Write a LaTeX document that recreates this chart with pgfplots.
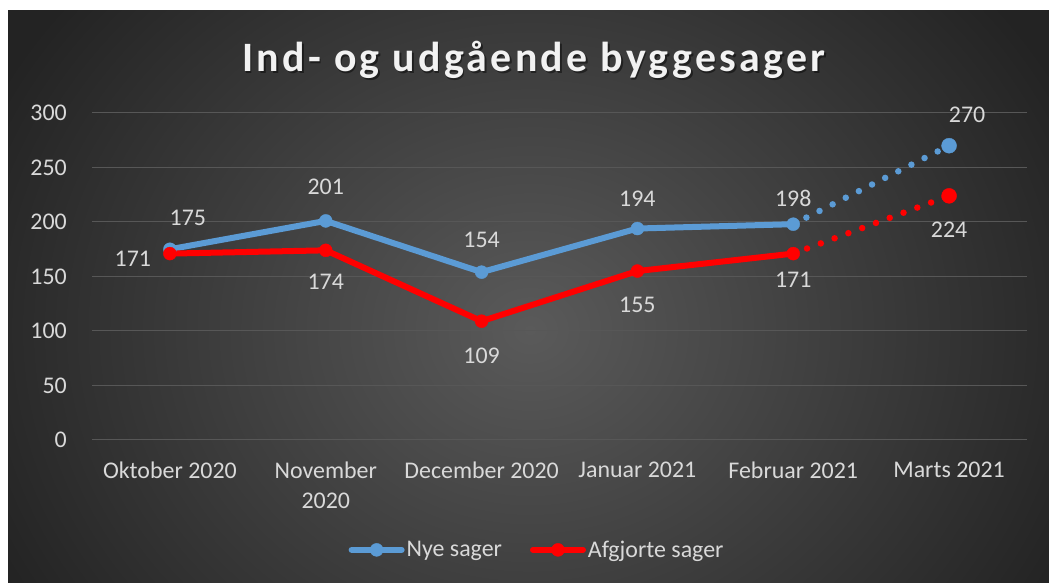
\documentclass[border=0pt]{standalone}
\usepackage{fontspec}
\setmainfont{Carlito}
\newfontfamily\titlefont[LetterSpace=8]{Carlito}
\usepackage{pgfplots}
\usepackage{pgfplotstable}
\pgfplotsset{compat=1.18}
\definecolor{bluel}{HTML}{5B9BD5}
\definecolor{redl}{HTML}{FF0000}
\definecolor{txt}{HTML}{D9D9D9}
\definecolor{titc}{HTML}{F2F2F2}
\definecolor{gridc}{HTML}{575757}
\definecolor{bgin}{HTML}{5A5A5A}
\definecolor{bgout}{HTML}{232323}
\newcommand\lbl{\fontsize{24}{30}\selectfont}

\pgfplotstableread{
x y
0 175
1 201
2 154
3 194
4 198
}\nyesolid
\pgfplotstableread{
x y
4 198
5 270
}\nyedot
\pgfplotstableread{
x y dx dy
0 175 18 31
1 201 0 34
2 154 0 32
3 194 0 30
4 198 0 26
5 270 18 31
}\nyelab
\pgfplotstableread{
x y
5 270
}\nyelast

\pgfplotstableread{
x y
0 171
1 174
2 109
3 155
4 171
}\afgsolid
\pgfplotstableread{
x y
4 171
5 224
}\afgdot
\pgfplotstableread{
x y dx dy
0 171 -37 -5
1 174 0 -31
2 109 0 -35
3 155 0 -34
4 171 0 -26
5 224 0 -34
}\afglab
\pgfplotstableread{
x y
5 224
}\afglast

\begin{document}
\begin{tikzpicture}
\path[use as bounding box] (0bp,0bp) rectangle (1049bp,583bp);
\fill[white] (0bp,0bp) rectangle (1049bp,583bp);
\begin{scope}
\clip (8bp,0bp) rectangle (1049bp,572bp);
\shade[inner color=bgin, outer color=bgout] (-70bp,-267bp) rectangle (1130bp,773bp);
\end{scope}
\node[anchor=base, font=\titlefont\bfseries\fontsize{42}{50}\selectfont, text=black, opacity=0.45] at (535.5bp,509.5bp) {Ind- og udgående byggesager};
\node[anchor=base, font=\titlefont\bfseries\fontsize{42}{50}\selectfont, text=titc] at (534bp,511bp) {Ind- og udgående byggesager};
\begin{axis}[
  at={(92bp,143bp)}, anchor=south west,
  scale only axis, width=935bp, height=327bp,
  xmin=-0.5, xmax=5.5, ymin=0, ymax=300,
  xtick={0,...,5},
  xticklabels={Oktober 2020,{November\\2020},December 2020,Januar 2021,Februar 2021,Marts 2021},
  ytick={0,50,...,300},
  ymajorgrids, grid style={color=gridc, line width=1bp},
  axis line style={draw=none}, major tick length=0pt,
  tick label style={font=\lbl, text=txt},
  xticklabel style={align=center, anchor=north, inner sep=0pt, yshift=-22bp},
  yticklabel style={anchor=east, inner sep=0pt, xshift=-25bp},
  /pgf/number format/assume math mode=true,
  clip=false,
  legend style={at={(0.476,-0.336)}, anchor=center, draw=none, fill=none, font=\lbl, text=txt,
    /tikz/every even column/.append style={column sep=26bp}},
  legend columns=2, legend cell align=left,
]
% Nye sager
\addplot[forget plot, bluel, line width=6bp, line join=round, line cap=round, mark=none] table {\nyesolid};
\addplot[forget plot, bluel, line width=6.5bp, line cap=round, mark=none, dash pattern=on 0bp off 14.7bp] table {\nyedot};
\addplot[forget plot, only marks, mark=*, mark size=6.5bp, color=bluel,
  visualization depends on={\thisrow{dx} \as \dx},
  visualization depends on={\thisrow{dy} \as \dy},
  nodes near coords,
  nodes near coords style={anchor=center, xshift=\dx bp, yshift=\dy bp, font=\lbl, text=txt}] table {\nyelab};
\addplot[forget plot, only marks, mark=*, mark size=7.5bp, color=bluel] table {\nyelast};
% Afgjorte sager
\addplot[forget plot, redl, line width=6bp, line join=round, line cap=round, mark=none] table {\afgsolid};
\addplot[forget plot, redl, line width=6.5bp, line cap=round, mark=none, dash pattern=on 0bp off 14.7bp] table {\afgdot};
\addplot[forget plot, only marks, mark=*, mark size=6.5bp, color=redl,
  visualization depends on={\thisrow{dx} \as \dx},
  visualization depends on={\thisrow{dy} \as \dy},
  nodes near coords,
  nodes near coords style={anchor=center, xshift=\dx bp, yshift=\dy bp, font=\lbl, text=txt}] table {\afglab};
\addplot[forget plot, only marks, mark=*, mark size=7.5bp, color=redl] table {\afglast};

\addlegendimage{legend image code/.code={\draw[bluel, line width=6bp, line cap=round] (0bp,0bp) -- (50bp,0bp); \fill[bluel] (25bp,0bp) circle (6.5bp);}}
\addlegendentry{Nye sager}
\addlegendimage{legend image code/.code={\draw[redl, line width=6bp, line cap=round] (0bp,0bp) -- (50bp,0bp); \fill[redl] (25bp,0bp) circle (6.5bp);}}
\addlegendentry{Afgjorte sager}
\end{axis}
\end{tikzpicture}
\end{document}
